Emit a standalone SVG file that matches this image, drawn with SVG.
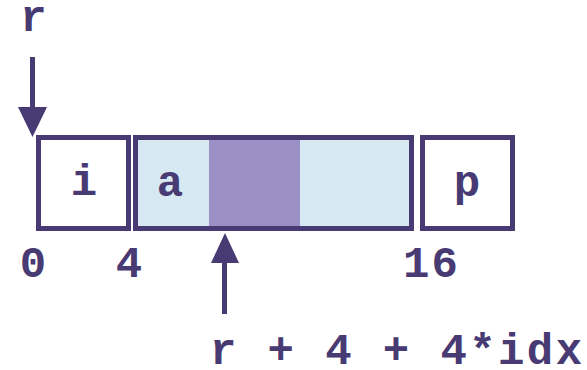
<svg xmlns="http://www.w3.org/2000/svg" width="587" height="370" viewBox="0 0 587 370">
<style>
.t{font-family:"Liberation Mono","Courier New",monospace;font-weight:bold;font-size:44px;fill:#483a72}
.box{stroke:#483a72;stroke-width:5}
.arrow{stroke:#483a72;stroke-width:5;fill:none}
</style>
<rect width="587" height="370" fill="#ffffff"/>
<g id="node-i">
<rect class="box" x="38.5" y="137.5" width="90" height="91" fill="#ffffff"/>
<text class="t" x="84" y="195" text-anchor="middle">i</text>
</g>
<g id="node-a">
<rect class="box" x="135.5" y="137.5" width="276" height="91" fill="#d6e9f2"/>
<rect x="209" y="140" width="91" height="86" fill="#9a90c5"/>
<text class="t" x="170" y="196" text-anchor="middle">a</text>
</g>
<g id="node-p">
<rect class="box" x="422.5" y="137.5" width="90" height="91" fill="#ffffff"/>
<text class="t" x="467" y="196" text-anchor="middle">p</text>
</g>
<g id="labels">
<text class="t" x="33.5" y="31" text-anchor="middle">r</text>
<text class="t" x="33" y="277" text-anchor="middle">0</text>
<text class="t" x="129" y="277" text-anchor="middle">4</text>
<text class="t" x="431.5" y="277" text-anchor="middle" letter-spacing="2">16</text>
<text class="t" x="210" y="364" letter-spacing="2.4" xml:space="preserve">r + 4 + 4*idx</text>
</g>
<g id="connectors">
<line class="arrow" x1="32.5" y1="57" x2="32.5" y2="110"/>
<path d="M18,107 L47,107 L32.5,137 Z" fill="#483a72"/>
<line class="arrow" x1="224.5" y1="314" x2="224.5" y2="260"/>
<path d="M211,263 L239,263 L225,233 Z" fill="#483a72"/>
</g>
</svg>
